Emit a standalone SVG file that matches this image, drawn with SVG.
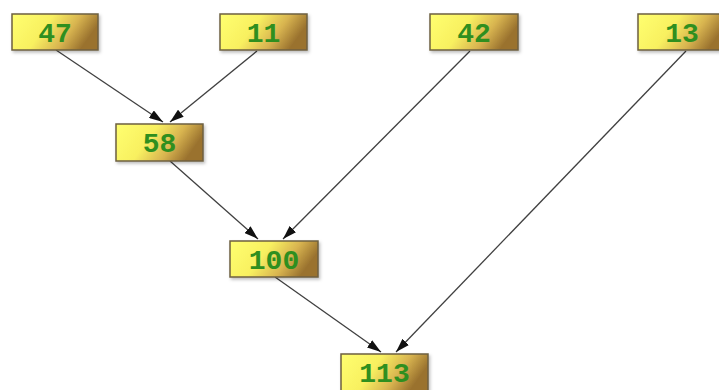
<svg xmlns="http://www.w3.org/2000/svg" width="719" height="390" viewBox="0 0 719 390">
<defs>
<linearGradient id="g" x1="0" y1="0" x2="1" y2="0.3">
<stop offset="0" stop-color="#ffff70"/>
<stop offset="0.45" stop-color="#f8f060"/>
<stop offset="0.75" stop-color="#d8b450"/>
<stop offset="1" stop-color="#9a722e"/>
</linearGradient>
<marker id="ah" viewBox="0 0 14 9" refX="14" refY="4.5" markerWidth="14" markerHeight="9" markerUnits="userSpaceOnUse" orient="auto">
<path d="M0,0 L14,4.5 L0,9 z" fill="#111"/>
</marker>
<filter id="sh" x="-10%" y="-20%" width="125%" height="150%">
<feDropShadow dx="1.5" dy="2" stdDeviation="1.5" flood-color="#000" flood-opacity="0.25"/>
</filter>
</defs>
<style>
.box{fill:url(#g);stroke:#6e6040;stroke-width:1.5;filter:url(#sh)}
.lbl{font-family:"Liberation Mono","DejaVu Sans Mono",monospace;font-weight:bold;font-size:28px;fill:#2f8f1f;text-anchor:middle}
.c{stroke:#404040;stroke-width:1.3;fill:none;marker-end:url(#ah)}
</style>
<rect width="719" height="390" fill="#fff"/>
<g id="connectors">
<line class="c" x1="56" y1="50" x2="163" y2="122"/>
<line class="c" x1="257" y1="51" x2="170" y2="122"/>
<line class="c" x1="170" y1="161" x2="258" y2="239"/>
<line class="c" x1="470" y1="51" x2="283" y2="239"/>
<line class="c" x1="275" y1="277" x2="381" y2="352"/>
<line class="c" x1="686" y1="51" x2="396" y2="352"/>
</g>
<g id="n47"><rect class="box" x="12" y="14" width="86" height="36"/><text class="lbl" x="55" y="42">47</text></g>
<g id="n11"><rect class="box" x="220" y="14" width="87" height="36"/><text class="lbl" x="263.5" y="42">11</text></g>
<g id="n42"><rect class="box" x="430" y="14" width="88" height="36"/><text class="lbl" x="474" y="42">42</text></g>
<g id="n13"><rect class="box" x="638" y="14" width="88" height="36"/><text class="lbl" x="682" y="42">13</text></g>
<g id="n58"><rect class="box" x="116" y="124" width="87" height="37"/><text class="lbl" x="159.5" y="152">58</text></g>
<g id="n100"><rect class="box" x="230" y="241" width="88" height="36"/><text class="lbl" x="274" y="269">100</text></g>
<g id="n113"><rect class="box" x="341" y="354" width="87" height="37"/><text class="lbl" x="384.5" y="382">113</text></g>
</svg>
